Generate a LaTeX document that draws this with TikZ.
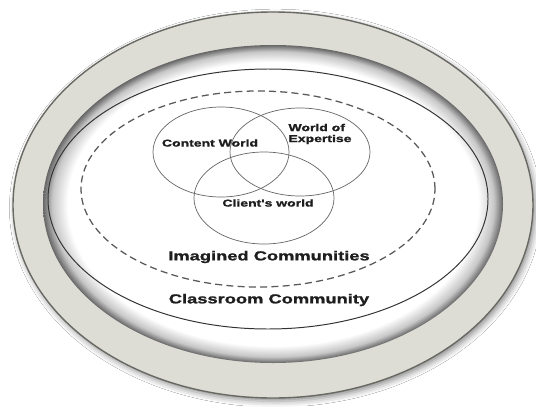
\documentclass[tikz,border=0pt]{standalone}
\usepackage{fontspec}
\setmainfont{Liberation Sans}
\newfontfamily\labelfont[FakeStretch=1.4, BoldFeatures={FakeBold=1.3}]{Liberation Sans}
\usetikzlibrary{shadows.blur}

\definecolor{ringgray}{RGB}{221,220,213}
\definecolor{rimgray}{RGB}{105,105,100}
\definecolor{textgray}{RGB}{30,30,30}
\pgfdeclareradialshading{innershadow}{\pgfpoint{0bp}{0bp}}{%
  color(0bp)=(white); color(22.3bp)=(white); color(24bp)=(black!22);
  color(25bp)=(black!60); color(50bp)=(black!60)}

\begin{document}
\begin{tikzpicture}[
    venn/.style={draw=black!60, line width=0.5pt},
    venntext/.style={font=\labelfont\bfseries\fontsize{7.1}{7.8}\selectfont,
      text=textgray, inner sep=0pt},
    commtext/.style={font=\labelfont\bfseries\fontsize{9.3}{10}\selectfont,
      text=textgray, inner sep=0pt}
  ]
    \fill[white] (0, 0) rectangle (13.4, 10.15);
    \useasboundingbox (0, 0) rectangle (13.4, 10.15);
    % frame
    \fill[ringgray, draw=rimgray, line width=1pt,
      blur shadow={shadow xshift=0.6mm, shadow yshift=-0.8mm,
        shadow blur radius=1.5mm, shadow opacity=45}]
      (6.825, 5.025) ellipse [x radius=6.5, y radius=4.825];
    \shade[shading=innershadow] (6.825, 5.05) ellipse [x radius=5.75, y radius=3.975];
    % communities
    \draw[black!80, line width=0.7pt] (6.7, 5.175) ellipse [x radius=5.5, y radius=3.25];
    \draw[black!65, line width=0.9pt, dash pattern=on 5pt off 3pt]
      (6.45, 5.425) ellipse [x radius=4.425, y radius=2.45];
    % worlds
    \draw[venn] (5.525, 6.35) ellipse [x radius=1.7, y radius=1.125];
    \draw[venn] (7.5, 6.35) ellipse [x radius=1.75, y radius=1.1];
    \draw[venn] (6.6, 5.2) ellipse [x radius=1.75, y radius=1.15];
    \node[venntext] (content) at (5.25, 6.575) {Content World};
    \node[venntext, align=left] (expertise) at (8.0, 6.8) {World of\\Expertise};
    \node[venntext] (client) at (6.7, 5.075) {Client's world};
    \node[commtext] (imagined) at (6.725, 3.725) {Imagined Communities};
    \node[commtext] (classroom) at (6.725, 2.65) {Classroom Community};
  \end{tikzpicture}
\end{document}
